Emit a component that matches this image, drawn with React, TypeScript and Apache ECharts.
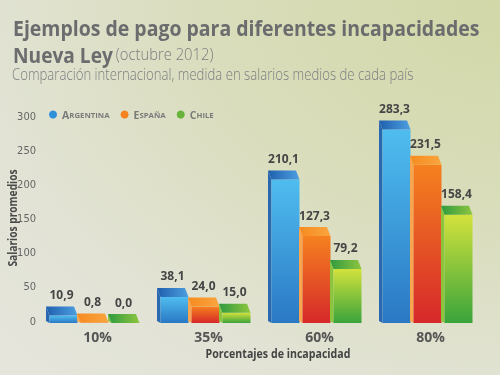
import React, { useEffect, useRef } from "react";
import * as echarts from "echarts";

const categories = ["10%", "35%", "60%", "80%"];
const seriesNames = ["Argentina", "España", "Chile"];
const argentina = [10.9, 38.1, 210.1, 283.3];
const espana = [0.8, 24.0, 127.3, 231.5];
const chile = [0.0, 15.0, 79.2, 158.4];
const yTicks = [0, 50, 100, 150, 200, 250, 300];

const palettes = [
  { legend: "#2f8fd8", front: ["#4fbdef", "#2a78c4"], side: "#2a69b0", top: ["#1f5fae", "#4d9fe0"] },
  { legend: "#f58220", front: ["#f5811f", "#d6282a"], side: "#f8a54e", top: ["#f68b1f", "#f9a540"] },
  { legend: "#68b43a", front: ["#d3e23c", "#3aa43c"], side: "#8cc43c", top: ["#2f9a3f", "#8ec640"] },
];

const fmt = (v: number) => v.toFixed(1).replace(".", ",");

export default function App() {
  const ref = useRef<HTMLDivElement>(null);
  useEffect(() => {
    if (!ref.current) return;
    const chart = echarts.init(ref.current, undefined, { renderer: "svg" });
    const seriesData = [argentina, espana, chile];
    const offsets = [-31, 0, 31];
    const barW = 28;
    const dx = 3.5;
    const dy = 9;

    const series = seriesData.map((vals, si) => ({
      type: "custom",
      name: seriesNames[si],
      itemStyle: { color: palettes[si].legend },
      clip: false,
      encode: { x: 0, y: 1 },
      data: vals.map((v, i) => [i, v]),
      renderItem: (params: any, api: any) => {
        const idx = api.value(0);
        const val = api.value(1);
        const p = api.coord([idx, val]);
        const b = api.coord([idx, 0]);
        const cx = p[0] + offsets[si];
        const yTop = p[1] + 2;
        const yBase = b[1] + 2;
        const x0 = cx - barW / 2;
        const x1 = cx + barW / 2;
        const pal = palettes[si];
        return {
          type: "group",
          children: [
            {
              type: "polygon",
              shape: { points: [[x0 - dx, yTop - dy], [x0, yTop], [x0, yBase], [x0 - dx, yBase - 2]] },
              style: { fill: pal.side },
            },
            {
              type: "rect",
              shape: { x: x0, y: yTop, width: barW, height: Math.max(0, yBase - yTop) },
              style: {
                fill: new echarts.graphic.LinearGradient(0, 0, 0, 1, [
                  { offset: 0, color: pal.front[0] },
                  { offset: 1, color: pal.front[1] },
                ]),
              },
            },
            {
              type: "polygon",
              shape: { points: [[x0 - dx, yTop - dy], [x1 - dx, yTop - dy], [x1, yTop], [x0, yTop]] },
              style: {
                fill: new echarts.graphic.LinearGradient(0, 0, 1, 0, [
                  { offset: 0, color: pal.top[0] },
                  { offset: 1, color: pal.top[1] },
                ]),
              },
            },
            {
              type: "text",
              style: {
                x: cx - 2,
                y: yTop - dy - 6,
                text: fmt(val),
                align: "center",
                verticalAlign: "bottom",
                fill: "#454545",
                fontSize: 12,
                fontWeight: "bold",
                fontFamily: "Open Sans",
              },
            },
          ],
        };
      },
    }));

    chart.setOption({
      animation: false,
      grid: { left: 39, right: 17, top: 116, bottom: 54 },
      legend: {
        left: 44,
        top: 104,
        icon: "circle",
        itemWidth: 8,
        itemHeight: 8,
        itemGap: 11,
        itemStyle: { borderWidth: 0 },
        data: seriesNames,
        formatter: (n: string) => `{a|${n[0].toUpperCase()}}{b|${n.slice(1).toUpperCase()}}`,
        textStyle: {
          color: "#7a7a7a",
          rich: {
            a: { fontSize: 10.5, fontFamily: "Open Sans", fontWeight: "bold", color: "#7a7a7a" },
            b: { fontSize: 7.8, fontFamily: "Open Sans", fontWeight: "bold", color: "#7a7a7a" },
          },
        },
      },
      xAxis: {
        type: "category",
        data: categories,
        axisLine: { show: false },
        axisTick: { show: false },
        axisLabel: {
          margin: 8,
          fontSize: 14,
          fontWeight: "bold",
          color: "#555",
          fontFamily: "Open Sans",
          padding: [0, 0, 0, 6],
        },
      },
      yAxis: {
        type: "value",
        min: yTicks[0],
        max: yTicks[yTicks.length - 1],
        interval: 50,
        splitLine: { show: false },
        axisLine: { show: false },
        axisTick: { show: false },
        axisLabel: { margin: 3, fontSize: 11, color: "#666", fontFamily: "Liberation Sans Narrow, DejaVu Sans Condensed, sans-serif" },
      },
      graphic: [
        {
          type: "text",
          x: 13,
          y: 17,
          scaleX: 0.885,
          style: {
            text: "Ejemplos de pago para diferentes incapacidades",
            fontSize: 22,
            fontWeight: "bold",
            fontFamily: "Open Sans",
            fill: "#6b6c6e",
            verticalAlign: "top",
          },
        },
        {
          type: "text",
          x: 13,
          y: 43,
          scaleX: 0.87,
          style: {
            text: "{b|Nueva Ley} {l|(octubre 2012)}",
            verticalAlign: "top",
            rich: {
              b: { fontSize: 22, fontWeight: "bold", fontFamily: "Open Sans", fill: "#6b6c6e" },
              l: { fontSize: 17, fontWeight: 300, fontFamily: "Open Sans", fill: "#7b7c7e" },
            },
          },
        },
        {
          type: "text",
          x: 12,
          y: 66,
          scaleX: 0.85,
          style: {
            text: "Comparación internacional, medida en salarios medios de cada país",
            fontSize: 15.5,
            fontWeight: 300,
            fontFamily: "Open Sans",
            fill: "#7d7e80",
            verticalAlign: "top",
          },
        },
        {
          type: "text",
          x: 12,
          y: 218,
          rotation: Math.PI / 2,
          scaleX: 0.85,
          style: {
            text: "Salarios promedios",
            fontSize: 12,
            fontWeight: "bold",
            fontFamily: "Open Sans",
            fill: "#4a4a4a",
            align: "center",
            verticalAlign: "middle",
          },
        },
        {
          type: "text",
          x: 278,
          y: 353,
          scaleX: 0.85,
          style: {
            text: "Porcentajes de incapacidad",
            fontSize: 12.5,
            fontWeight: "bold",
            fontFamily: "Open Sans",
            fill: "#444",
            align: "center",
            verticalAlign: "middle",
          },
        },
      ],
      series,
    });
    return () => chart.dispose();
  }, []);
  return (
    <div
      ref={ref}
      style={{
        position: "fixed",
        left: 0,
        top: 0,
        width: 500,
        height: 375,
        background:
          "radial-gradient(ellipse at 100% 0%, #d2d8a8 0%, #d9ddbb 40%, #e2e3d5 75%, #e5e5dc 100%)",
      }}
    />
  );
}
